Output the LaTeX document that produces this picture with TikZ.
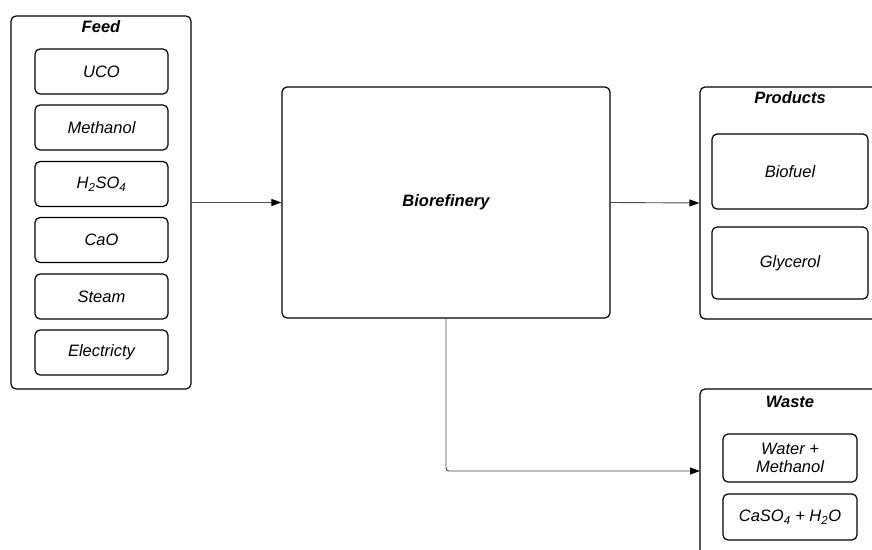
\documentclass[tikz,border=0pt]{standalone}
\usepackage{fontspec}
\setmainfont{Liberation Sans}
\usetikzlibrary{arrows.meta}
\begin{document}
\begin{tikzpicture}[x=1pt,y=-1pt,
  every node/.style={font=\fontsize{16.5}{19}\selectfont\itshape, inner sep=0pt},
  group/.style={draw=black, line width=1.2pt, rounded corners=5pt, rectangle},
  item/.style={draw=black, line width=1.2pt, rounded corners=5pt, rectangle, align=center},
  grouptitle/.style={font=\fontsize{16.5}{19}\selectfont\bfseries\itshape},
  flow/.style={draw=black!70, line width=0.9pt, rounded corners=3pt,
    -{Triangle[length=10pt,width=7pt,fill=black,color=black]}}
]
\useasboundingbox (0,0) rectangle (872,549);
\clip (0,0) rectangle (872,549);

% feed group
\node[group, minimum width=180pt, minimum height=373pt] (feed) at (101,202.5) {};
\node[grouptitle] (feedT) at (101,27) {Feed};
\node[item, minimum width=133pt, minimum height=45pt] (uco) at (101.5,71.5) {UCO};
\node[item, minimum width=133pt, minimum height=45pt] (meoh) at (101.5,127.5) {Methanol};
\node[item, minimum width=133pt, minimum height=45pt] (acid) at (101.5,184) {H\textsubscript{2}SO\textsubscript{4}};
\node[item, minimum width=133pt, minimum height=45pt] (cao) at (101.5,240) {CaO};
\node[item, minimum width=133pt, minimum height=45pt] (steam) at (101.5,296.5) {Steam};
\node[item, minimum width=133pt, minimum height=45pt] (elec) at (101.5,352.5) {Electricty};

% biorefinery
\node[item, minimum width=328pt, minimum height=231pt, font=\fontsize{16.5}{19}\selectfont\bfseries\itshape] (bio) at (446,202.5) {Biorefinery};

% products group
\node[group, minimum width=180pt, minimum height=232pt] (prod) at (790,203) {};
\node[grouptitle] (prodT) at (790,98) {Products};
\node[item, minimum width=156pt, minimum height=75pt] (fuel) at (790,171.5) {Biofuel};
\node[item, minimum width=156pt, minimum height=72pt] (glyc) at (790,263) {Glycerol};

% waste group
\node[group, minimum width=180pt, minimum height=171pt] (waste) at (790,474.5) {};
\node[grouptitle] (wasteT) at (790,402) {Waste};
\node[item, minimum width=134pt, minimum height=48pt, font=\fontsize{16.5}{18}\selectfont\itshape] (wm) at (790,458) {Water +\\Methanol};
\node[item, minimum width=134pt, minimum height=46pt] (gyp) at (790,517) {CaSO\textsubscript{4} + H\textsubscript{2}O};

% connectors
\coordinate (wasteIn) at (700,471);
\draw[flow] (feed.east) -- (bio.west);
\draw[flow] (bio.east) -- (prod.west);
\draw[flow] (bio.south) |- (wasteIn);
\end{tikzpicture}
\end{document}
